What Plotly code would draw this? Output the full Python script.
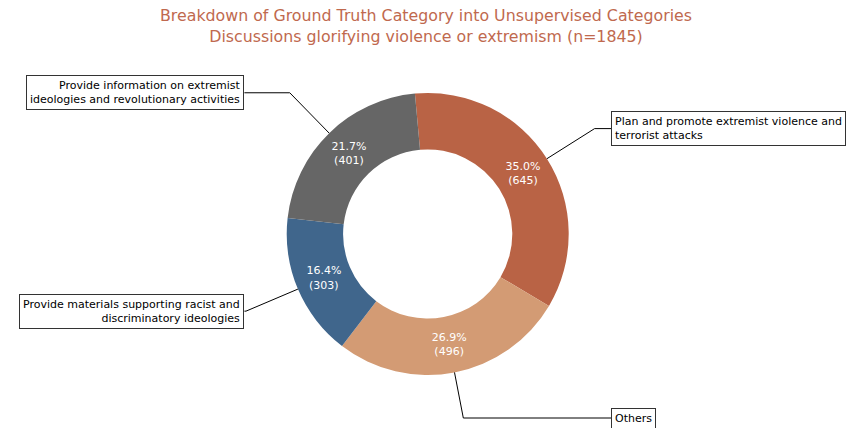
import numpy as np
import plotly.graph_objects as go

# ---- data ----
categories = [
    "Plan and promote extremist violence and<br>terrorist attacks",
    "Others",
    "Provide materials supporting racist and<br>discriminatory ideologies",
    "Provide information on extremist<br>ideologies and revolutionary activities",
]
counts = [645, 496, 303, 401]
colors = ["#B96345", "#D39B74", "#40668C", "#666666"]
title_lines = [
    "Breakdown of Ground Truth Category into Unsupervised Categories",
    "Discussions glorifying violence or extremism (n=1845)",
]

# ---- layout geometry ----
W, H = 851, 428
CX, CY, R = 427.7, 234.0, 141.0   # pie centre / radius in pixels
ROT = -5.2                        # start angle (deg, clockwise from 12 o'clock)
FONT = "DejaVu Sans"

# axes mapped so that the unit circle coincides with the pie
xr = [-CX / R, (W - CX) / R]
yr = [-(H - CY) / R, CY / R]

fig = go.Figure()
fig.add_trace(go.Pie(
    labels=categories,
    values=counts,
    sort=False,
    direction="clockwise",
    rotation=ROT,
    hole=0.6,
    marker=dict(colors=colors, line=dict(width=0)),
    texttemplate="%{percent:.1%}<br>(%{value})",
    textposition="inside",
    insidetextorientation="horizontal",
    textfont=dict(family=FONT, size=11, color="white"),
    domain=dict(x=[(CX - R) / W, (CX + R) / W], y=[1 - (CY + R) / H, 1 - (CY - R) / H]),
    showlegend=False,
    hoverinfo="label+value+percent",
))

# annotation boxes with angled connectors
total = sum(counts)
start = ROT
ymin_lab = yr[0] + 10 / R
for lab, v in zip(categories, counts):
    span = 360.0 * v / total
    mid = np.deg2rad(start + span / 2)
    start += span
    px, py = np.sin(mid), np.cos(mid)
    sgn = 1 if px >= 0 else -1
    ly = max(1.4 * py, ymin_lab)
    lx = 1.3 * sgn
    cxr = ly * px / py  # corner on the radial line
    fig.add_shape(type="path", xref="x", yref="y",
                  path=f"M {lx} {ly} L {cxr} {ly} L {px} {py}",
                  line=dict(color="black", width=1))
    fig.add_annotation(
        x=lx, y=ly, xref="x", yref="y", text=lab, showarrow=False,
        xanchor="left" if sgn > 0 else "right", yanchor="middle",
        align="left" if sgn > 0 else "right",
        font=dict(family=FONT, size=11, color="black"),
        bgcolor="white", bordercolor="#333333", borderwidth=1, borderpad=3,
    )

# title as a paper annotation
fig.add_annotation(
    x=0.5, y=1, xref="paper", yref="paper", xanchor="center", yanchor="top",
    yshift=-4, showarrow=False, text="<br>".join(title_lines),
    font=dict(family=FONT, size=15.8, color="#C0694E"),
)

fig.update_layout(
    width=W, height=H,
    margin=dict(l=0, r=0, t=0, b=0),
    paper_bgcolor="white", plot_bgcolor="rgba(0,0,0,0)",
    xaxis=dict(range=xr, visible=False, fixedrange=True),
    yaxis=dict(range=yr, visible=False, fixedrange=True),
)

fig.write_html("out.html", config={"displayModeBar": False},
               post_script="document.body.style.margin='0';document.body.style.overflow='hidden';")
